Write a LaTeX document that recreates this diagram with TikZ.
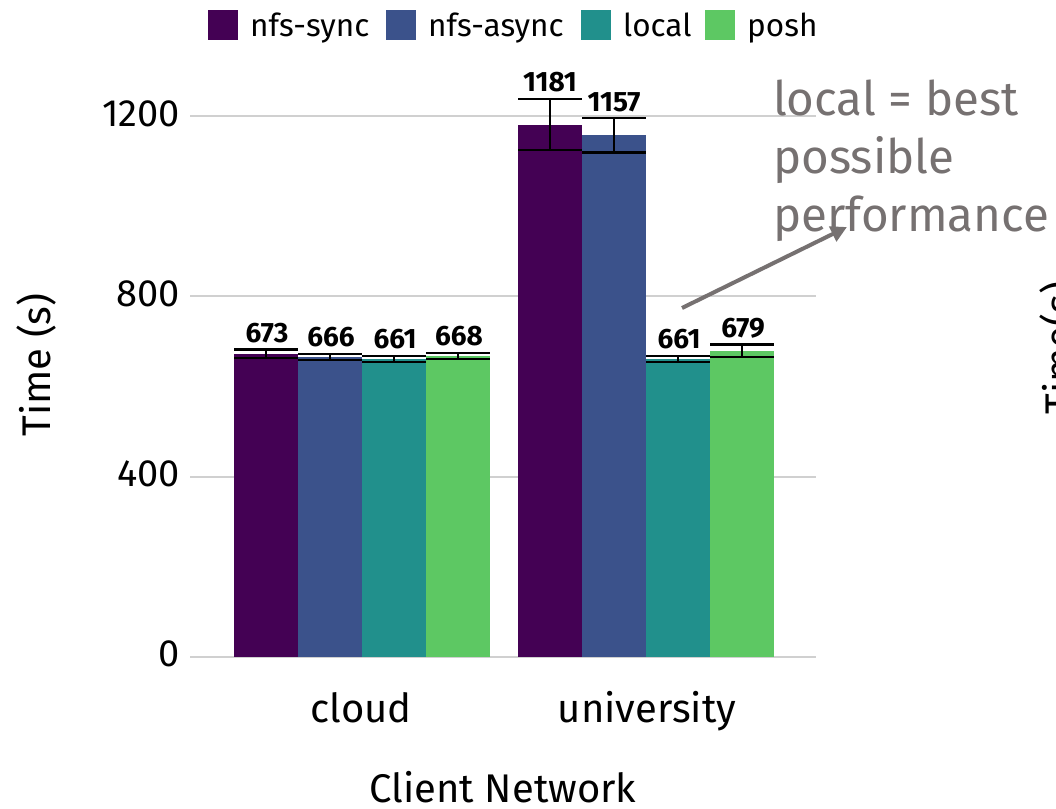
\documentclass[tikz,border=0pt]{standalone}
\usepackage{fontspec}
\setmainfont{Fira Sans}
\usetikzlibrary{arrows.meta}

\definecolor{nfssync}{HTML}{440154}
\definecolor{nfsasync}{HTML}{3B528B}
\definecolor{localfs}{HTML}{21908C}
\definecolor{poshfs}{HTML}{5DC863}
\definecolor{griglia}{HTML}{D0D0D0}
\definecolor{nota}{HTML}{767171}

\tikzset{
  errore/.style={black, line width=2.2pt},
  valore/.style={font=\fontsize{28}{28}\selectfont\bfseries, inner sep=0pt, anchor=base},
  tacca/.style={font=\fontsize{38}{38}\selectfont, inner sep=0pt, anchor=base east},
  etichetta/.style={font=\fontsize{40}{40}\selectfont, inner sep=0pt, anchor=base},
  voce/.style={font=\fontsize{31.5}{32}\selectfont, inner sep=0pt, anchor=base west},
  commento/.style={font=\fontsize{47.5}{47}\selectfont, text=nota, inner sep=0pt, anchor=base west}
}

\begin{document}
\begin{tikzpicture}[x=1pt, y=-1pt]
        \useasboundingbox (0,0) rectangle (1056,808);
        \fill[white] (0,0) rectangle (1056,808);
        % griglia e tacche
        \draw[griglia, line width=2pt] (190,657) -- (816,657) (190,476.7) -- (816,476.7)
            (190,296.4) -- (816,296.4) (190,116.1) -- (816,116.1);
        \node[tacca] (t0) at (180,666.5) {0};
        \node[tacca] (t400) at (180,486.5) {400};
        \node[tacca] (t800) at (180,306) {800};
        \node[tacca] (t1200) at (180,126) {1200};
        % barre (y in secondi)
        \begin{scope}[shift={(0,657)}, yscale=-0.4508]
        \fill[nfssync] (234,0) rectangle (298,673);
        \fill[nfsasync] (298,0) rectangle (362,666);
        \fill[localfs] (362,0) rectangle (426,661);
        \fill[poshfs] (426,0) rectangle (490,668);
        \fill[nfssync] (518,0) rectangle (582,1181);
        \fill[nfsasync] (582,0) rectangle (646,1157);
        \fill[localfs] (646,0) rectangle (710,661);
        \fill[poshfs] (710,0) rectangle (774,679);
        % barre di errore
        \draw[errore] (266,664) -- (266,682) (234,664) -- (298,664) (234,682) -- (298,682);
        \draw[errore] (330,659) -- (330,673) (298,659) -- (362,659) (298,673) -- (362,673);
        \draw[errore] (394,654) -- (394,668) (362,654) -- (426,654) (362,668) -- (426,668);
        \draw[errore] (458,661) -- (458,675) (426,661) -- (490,661) (426,675) -- (490,675);
        \draw[errore] (550,1124) -- (550,1238) (518,1124) -- (582,1124) (518,1238) -- (582,1238);
        \draw[errore] (614,1119) -- (614,1195) (582,1119) -- (646,1119) (582,1195) -- (646,1195);
        \draw[errore] (678,654) -- (678,668) (646,654) -- (710,654) (646,668) -- (710,668);
        \draw[errore] (742,665) -- (742,693) (710,665) -- (774,665) (710,693) -- (774,693);
        % valori
        \node[valore] (v1) at (267,697.5) {673};
        \node[valore] (v2) at (331,688.5) {666};
        \node[valore] (v3) at (395,683.5) {661};
        \node[valore] (v4) at (459,690.5) {668};
        \node[valore] (v5) at (550,1253.5) {1181};
        \node[valore] (v6) at (614,1210.5) {1157};
        \node[valore] (v7) at (679,683.5) {661};
        \node[valore] (v8) at (743,708.5) {679};
        \end{scope}
        % assi
        \node[etichetta] (cloud) at (361,722) {cloud};
        \node[etichetta] (univ) at (647,722) {university};
        \node[etichetta] (xtit) at (503,802) {Client Network};
        \node[etichetta, anchor=center, rotate=90] (ytit) at (36,365) {Time (s)};
        % legenda
        \fill[nfssync] (208,10) rectangle (238,40);
        \node[voce] (l1) at (250,37) {nfs-sync};
        \fill[nfsasync] (386,10) rectangle (416,40);
        \node[voce] (l2) at (428,37) {nfs-async};
        \fill[localfs] (581,10) rectangle (611,40);
        \node[voce] (l3) at (623,37) {local};
        \fill[poshfs] (705,10) rectangle (735,40);
        \node[voce] (l4) at (747,37) {posh};
        % nota con freccia
        \node[commento] (n1) at (773,115) {local = best};
        \node[commento] (n2) at (773,173) {possible};
        \node[commento] (n3) at (773,231) {performance};
        \coordinate (da) at (682,308);
        \coordinate (a) at (847,227);
        \draw[nota, line width=4pt, -{Triangle[length=16pt, width=16pt]}] (da) -- (a);
        % grafico vicino (tagliato)
        \node[etichetta, anchor=north, rotate=90] (ytit2) at (1039,348) {Time(s)};
\end{tikzpicture}
\end{document}
